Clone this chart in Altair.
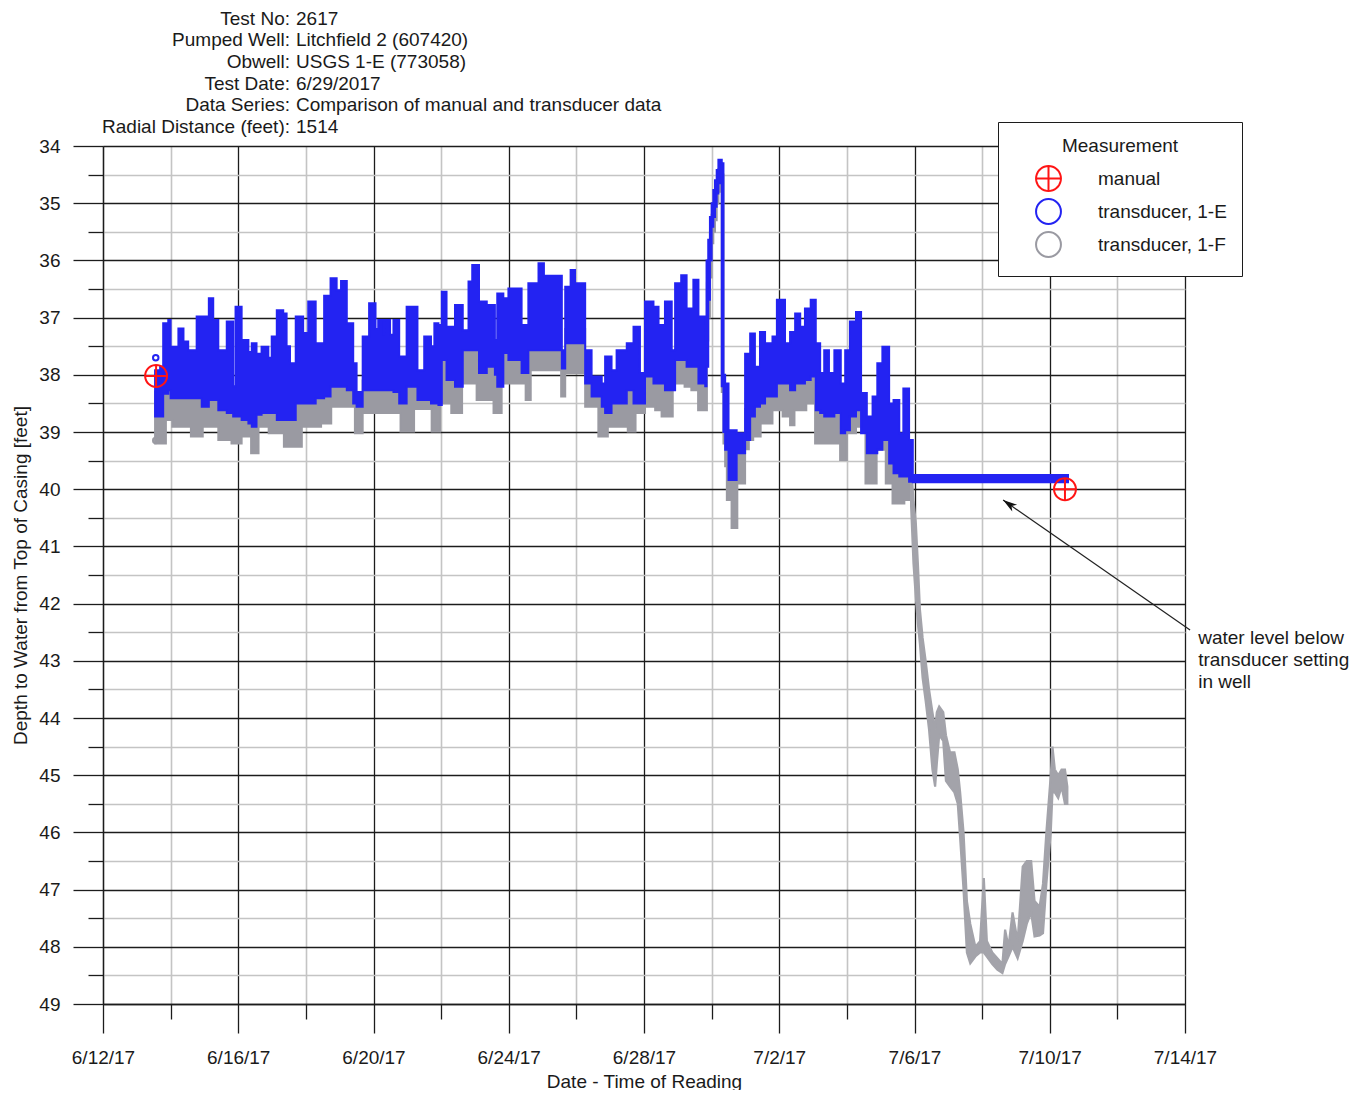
import math
import altair as alt
import pandas as pd

FONT = "Liberation Sans, Arial, sans-serif"
BLUE = "#2323f2"
GRAY = "#9a9aa2"
GRAY_LIGHT = "#a3a3aa"
RED = "#ff1414"
INK = "#1a1a1a"

# ---------------- data (days since 2017-06-12 00:00, depth in feet) ----------------
# transducer 1-E : envelope of the dense readings (start of each plateau, top, bottom)
e_day = [1.54, 1.69, 1.78, 1.93, 2.00, 2.23, 2.38, 2.52, 2.77, 2.92, 3.13, 3.26, 3.41, 3.66,
         3.85, 3.92, 4.10, 4.30, 4.40, 4.54, 4.69, 4.89, 4.99, 5.14, 5.33, 5.43, 5.53, 5.70,
         5.92, 6.07, 6.29, 6.54, 6.73, 6.91, 7.04, 7.21, 7.40, 7.50, 7.68, 7.87, 8.06, 8.14,
         8.29, 8.34, 8.49, 8.59, 8.76, 8.98, 9.30, 9.50, 9.70, 9.80, 9.92, 10.02, 10.16, 10.41,
         10.64, 10.81, 10.92, 11.12, 11.35, 11.59, 11.66, 11.84, 11.99, 12.38, 12.58, 12.88,
         13.04, 13.57, 13.67, 13.83, 13.96, 14.26, 14.45, 14.75, 14.85, 15.04, 15.19, 15.49,
         15.69, 15.88, 16.03, 16.28, 16.43, 16.62, 16.82, 16.92, 17.10, 17.26, 17.46, 17.61,
         17.81, 17.85, 17.90, 17.95, 18.00, 18.05, 18.10, 18.15, 18.20, 18.30, 18.35, 18.40,
         18.50, 18.74, 18.94, 18.99, 19.14, 19.28, 19.43, 19.58, 19.80, 19.93, 20.17, 20.32,
         20.47, 20.62, 20.76, 20.93, 21.08, 21.21, 21.33, 21.47, 21.63, 21.82, 21.95, 22.09,
         22.27, 22.42, 22.59, 22.76, 22.90, 23.05, 23.25, 23.38, 23.55, 23.67, 23.84, 23.95,
         28.54]
e_hi = [37.92, 37.86, 37.10, 37.04, 37.51, 37.19, 37.42, 37.57, 36.98, 36.98, 36.66, 37.04, 37.57, 37.07,
        38.20, 36.81, 37.39, 37.60, 37.45, 37.63, 37.51, 37.70, 37.33, 36.87, 36.93, 37.50, 37.80, 36.98,
        37.27, 36.72, 37.45, 36.62, 36.31, 36.52, 36.36, 37.10, 37.80, 38.30, 37.33, 36.75, 37.20, 37.04,
        37.30, 37.04, 37.30, 37.04, 37.68, 36.81, 37.92, 37.33, 37.50, 37.10, 37.13, 36.55, 37.16, 36.78,
        37.22, 36.37, 36.08, 36.72, 36.78, 37.39, 36.58, 36.66, 36.49, 37.13, 36.40, 36.05,
        36.27, 37.57, 36.46, 36.17, 36.40, 37.57, 38.03, 38.15, 37.68, 37.92, 37.57, 37.45,
        37.16, 37.97, 36.72, 36.81, 37.13, 36.72, 37.57, 36.40, 36.26, 36.84, 36.34, 36.98,
        37.50, 36.00, 35.64, 35.24, 35.00, 34.77, 34.60, 34.42, 34.24, 34.30, 38.00, 38.15,
        38.97, 39.02, 39.26, 37.63, 37.28, 37.86, 37.25, 37.45, 37.33, 36.69, 37.45, 37.25,
        36.93, 37.16, 36.84, 36.69, 37.45, 37.97, 37.57, 37.97, 37.57, 38.15, 37.57, 37.07,
        36.90, 38.32, 38.73, 38.38, 37.80, 37.51, 38.50, 38.44, 39.02, 38.24, 39.14, 39.75,
        39.75]
e_lo = [38.73, 38.73, 38.33, 38.27, 38.41, 38.41, 38.41, 38.41, 38.41, 38.56, 38.44, 38.44, 38.62, 38.67,
        38.73, 38.73, 38.79, 38.85, 38.91, 38.70, 38.67, 38.67, 38.67, 38.79, 38.79, 38.79, 38.79, 38.50,
        38.50, 38.50, 38.41, 38.38, 38.21, 38.21, 38.21, 38.27, 38.50, 38.56, 38.27, 38.27, 38.27, 38.27,
        38.27, 38.27, 38.27, 38.30, 38.50, 38.21, 38.44, 38.44, 38.50, 38.50, 38.53, 37.74, 38.09, 38.21,
        37.57, 37.57, 37.57, 37.97, 37.86, 38.00, 38.21, 37.62, 37.74, 37.97, 37.57, 37.57,
        37.57, 37.89, 37.45, 37.45, 37.45, 38.15, 38.38, 38.56, 38.67, 38.50, 38.50, 38.27,
        38.50, 38.50, 38.03, 38.15, 38.15, 38.27, 38.27, 37.74, 37.74, 37.86, 37.86, 38.15,
        38.20, 37.86, 36.69, 36.00, 35.41, 35.24, 35.06, 34.83, 34.65, 38.20, 39.00, 39.31,
        39.84, 39.37, 39.37, 39.14, 38.73, 38.56, 38.50, 38.38, 38.38, 38.15, 38.15, 38.27,
        38.15, 38.15, 38.09, 38.03, 38.62, 38.67, 38.73, 38.73, 38.67, 39.02, 38.97, 38.73,
        38.62, 39.02, 39.37, 39.37, 39.31, 39.14, 39.55, 39.72, 39.78, 39.78, 39.87, 39.88,
        39.88]

# transducer 1-F, until 7/6 (plateau start, top, bottom)
f1_day = [1.54, 1.86, 2.05, 2.60, 2.95, 3.41, 3.80, 4.10, 4.38, 4.60, 4.90, 5.35, 5.88, 6.45,
          6.75, 7.45, 7.68, 8.80, 9.20, 9.72, 9.97, 10.30, 10.62, 11.05, 11.55, 11.79, 12.50,
          12.65, 13.55, 13.67, 14.26, 14.65, 14.93, 15.52, 15.75, 16.03, 16.33, 16.52, 16.85,
          17.20, 17.40, 17.60, 17.86, 17.90, 17.95, 18.00, 18.05, 18.10, 18.15, 18.20, 18.25,
          18.30, 18.35, 18.40, 18.45, 18.59, 18.76, 18.99, 19.10, 19.23, 19.45, 19.80, 20.10,
          20.32, 20.45, 20.80, 21.06, 21.80, 22.00, 22.27, 22.55, 22.88, 23.15, 23.35, 23.70,
          23.90]
f1_hi = [38.30, 38.20, 38.30, 38.30, 38.30, 38.30, 38.40, 38.40, 38.40, 38.30, 38.30, 38.30, 38.20, 38.10,
         38.00, 38.30, 38.10, 38.10, 38.10, 38.20, 37.60, 37.90, 37.40, 37.50, 37.80, 37.40, 37.40,
         37.30, 37.60, 37.20, 38.10, 38.30, 38.10, 38.20, 38.20, 37.90, 37.90, 38.00, 37.60,
         37.60, 37.60, 37.90, 36.40, 36.00, 35.50, 35.20, 35.00, 34.80, 34.60, 34.40, 34.30,
         34.50, 38.20, 38.90, 39.00, 39.10, 39.30, 38.60, 38.50, 38.40, 38.20, 38.00, 38.00,
         38.00, 37.90, 37.90, 38.30, 38.50, 38.50, 38.50, 38.80, 38.90, 39.00, 39.10, 39.20,
         39.60]
f1_lo = [39.20, 38.79, 38.91, 39.08, 38.91, 39.14, 39.20, 39.08, 39.37, 38.91, 39.02, 39.26, 38.91, 38.85,
         38.56, 39.02, 38.67, 38.99, 38.60, 38.99, 38.50, 38.67, 38.15, 38.44, 38.67, 38.15, 38.44,
         37.92, 38.38, 37.97, 38.56, 39.08, 38.91, 38.99, 38.67, 38.56, 38.62, 38.73, 38.15,
         38.21, 38.27, 38.62, 37.40, 37.00, 36.30, 35.70, 35.50, 35.30, 35.00, 34.80, 34.70,
         38.30, 39.20, 39.60, 40.19, 40.68, 39.90, 39.30, 39.14, 39.08, 38.85, 38.62, 38.73,
         38.88, 38.62, 38.50, 39.20, 39.49, 39.02, 38.91, 39.90, 39.31, 39.90, 40.25, 40.19,
         40.30]

# transducer 1-F after 7/6, when the level fell below the 1-E transducer
f2_day = [23.90, 23.97, 24.04, 24.10, 24.16, 24.24, 24.33, 24.43, 24.53, 24.61, 24.66, 24.73,
          24.85, 24.93, 25.05, 25.18, 25.28, 25.35, 25.45, 25.55, 25.65, 25.80, 25.94, 26.05,
          26.14, 26.30, 26.45, 26.60, 26.68, 26.78, 26.90, 27.05, 27.20, 27.32, 27.45, 27.55,
          27.70, 27.80, 27.90, 28.03, 28.08, 28.15, 28.25, 28.35, 28.45, 28.52]
f2_hi = [39.60, 40.20, 40.60, 41.30, 42.10, 42.60, 43.00, 43.50, 43.90, 44.20, 43.90, 43.80,
         43.90, 44.30, 44.60, 44.60, 44.90, 45.30, 46.00, 47.20, 47.60, 48.00, 47.90, 46.80,
         47.90, 48.10, 48.20, 48.30, 47.70, 48.00, 47.40, 47.90, 46.60, 46.50, 46.50, 47.20,
         47.30, 46.90, 46.00, 45.00, 44.50, 44.90, 45.00, 44.90, 44.90, 45.20]
f2_lo = [40.30, 41.30, 41.90, 42.35, 42.70, 43.30, 43.70, 44.20, 44.90, 45.20, 44.80, 44.30,
         44.40, 45.10, 45.20, 45.30, 45.50, 46.10, 47.00, 48.10, 48.29, 48.17, 48.10, 48.10,
         48.17, 48.30, 48.40, 48.46, 48.30, 48.17, 48.00, 48.20, 47.90, 47.60, 47.40, 47.82,
         47.80, 47.76, 46.90, 46.00, 45.30, 45.30, 45.40, 45.20, 45.50, 45.50]

# individual markers
pt_series = ["manual", "manual", "transducer, 1-E", "transducer, 1-F"]
pt_day = [1.57, 28.45, 1.56, 1.56]
pt_depth = [38.02, 40.00, 37.70, 39.15]

series_names = ["manual", "transducer, 1-E", "transducer, 1-F"]

header_labels = ["Test No:", "Pumped Well:", "Obwell:", "Test Date:", "Data Series:",
                 "Radial Distance (feet):"]
header_values = ["2617", "Litchfield 2 (607420)", "USGS 1-E (773058)", "6/29/2017",
                 "Comparison of manual and transducer data", "1514"]

note_lines = ["water level below", "transducer setting", "in well"]
note_day, note_depth = 32.39, 42.60
arrow_tail = (32.15, 42.46)
arrow_tip = (26.62, 40.19)

x_major_vals = list(range(0, 33, 4))
x_minor_vals = list(range(2, 31, 4))
y_major_vals = list(range(34, 50))
y_minor_vals = [v + 0.5 for v in range(34, 49)]

# ---------------- chart ----------------
e_df = pd.DataFrame({"day": e_day, "hi": e_hi, "lo": e_lo})
f1_df = pd.DataFrame({"day": f1_day, "hi": f1_hi, "lo": f1_lo})
f2_df = pd.DataFrame({"day": f2_day, "hi": f2_hi, "lo": f2_lo})
pt_df = pd.DataFrame({"series": pt_series, "day": pt_day, "depth": pt_depth})

XS = alt.Scale(domain=[0, 32], nice=False, zero=False)
YS = alt.Scale(domain=[34, 49], reverse=True, nice=False, zero=False)

x_major = alt.Axis(
    orient="bottom", values=x_major_vals, grid=True, gridColor="#1c1c1c", gridWidth=1.3,
    ticks=True, tickSize=29, tickColor="#1c1c1c", tickWidth=1.3,
    domain=True, domainColor="#1c1c1c", domainWidth=1.3,
    labelExpr="timeFormat(datetime(2017, 5, 12 + datum.value), '%-m/%-d/%y')",
    labelFont=FONT, labelFontSize=19, labelColor=INK, labelPadding=15,
    labelFlush=False, labelOverlap=False,
    title="Date - Time of Reading", titleFont=FONT, titleFontSize=19,
    titleFontWeight="normal", titleColor=INK, titleY=77, titleBaseline="middle",
)
x_minor = alt.Axis(
    orient="bottom", values=x_minor_vals, grid=True, gridColor="#c4c4c4", gridWidth=1.6,
    ticks=True, tickSize=15, tickColor="#1c1c1c", tickWidth=1.3,
    domain=False, labels=False,
)
y_major = alt.Axis(
    orient="left", values=y_major_vals, grid=True, gridColor="#1c1c1c", gridWidth=1.3,
    ticks=True, tickSize=30, tickColor="#1c1c1c", tickWidth=1.3,
    domain=True, domainColor="#1c1c1c", domainWidth=1.3,
    format="d", labelFont=FONT, labelFontSize=19, labelColor=INK, labelPadding=13,
    labelOverlap=False,
    title="Depth to Water from Top of Casing [feet]", titleFont=FONT, titleFontSize=19,
    titleFontWeight="normal", titleColor=INK, titleX=-83, titleY=429,
    titleAngle=270, titleBaseline="middle",
)
y_minor = alt.Axis(
    orient="left", values=y_minor_vals, grid=True, gridColor="#c4c4c4", gridWidth=1.6,
    ticks=True, tickSize=15, tickColor="#1c1c1c", tickWidth=1.3,
    domain=False, labels=False,
)

gray_pre = alt.Chart(f1_df).mark_area(
    interpolate="step-after", color=GRAY, stroke=GRAY, strokeWidth=2
).encode(
    x=alt.X("day:Q", scale=XS, axis=x_minor, title=None),
    y=alt.Y("hi:Q", scale=YS, axis=y_minor, title=None),
    y2="lo:Q",
)

gray_post = alt.Chart(f2_df).mark_area(
    interpolate="linear", color=GRAY_LIGHT, stroke=GRAY_LIGHT, strokeWidth=2.2
).encode(
    x=alt.X("day:Q", scale=XS, axis=None),
    y=alt.Y("hi:Q", scale=YS, axis=None),
    y2="lo:Q",
)

blue = alt.Chart(e_df).mark_area(
    interpolate="step-after", color=BLUE, stroke=BLUE, strokeWidth=2
).encode(
    x=alt.X("day:Q", scale=XS, axis=x_major),
    y=alt.Y("hi:Q", scale=YS, axis=y_major),
    y2="lo:Q",
)

# symbol shapes: a circle (as a 36-gon) with a cross inside for the manual readings
_ring = "M" + "L".join(
    f"{math.cos(2 * math.pi * k / 36):.4f},{math.sin(2 * math.pi * k / 36):.4f}" for k in range(36)
) + "Z"
CROSS = _ring + "M-1,0L1,0M0,-1L0,1"

legend = alt.Legend(
    title="Measurement", orient="none", legendX=895, legendY=-24,
    fillColor="white", strokeColor="#1c1c1c", padding=15,
    titleFont=FONT, titleFontSize=19, titleFontWeight="normal", titleColor=INK,
    titleAnchor="middle", titlePadding=9,
    labelFont=FONT, labelFontSize=19, labelColor=INK, labelOffset=36,
    symbolOffset=22, symbolSize=620, symbolStrokeWidth=2, rowPadding=0,
)
points = alt.Chart(pt_df).mark_point(filled=False, strokeWidth=2, opacity=1).encode(
    x=alt.X("day:Q", scale=XS, axis=None),
    y=alt.Y("depth:Q", scale=YS, axis=None),
    color=alt.Color("series:N", scale=alt.Scale(domain=series_names, range=[RED, BLUE, GRAY]),
                    legend=legend),
    shape=alt.Shape("series:N", scale=alt.Scale(domain=series_names, range=[CROSS, "circle", "circle"]),
                    legend=legend),
    size=alt.condition("datum.series == 'manual'", alt.value(480), alt.value(30)),
)

arrow_df = pd.DataFrame({"day": [arrow_tail[0]], "depth": [arrow_tail[1]],
                         "day2": [arrow_tip[0]], "depth2": [arrow_tip[1]]})
arrow_line = alt.Chart(arrow_df).mark_rule(color="#222222", strokeWidth=1.2).encode(
    x=alt.X("day:Q", scale=XS, axis=None),
    y=alt.Y("depth:Q", scale=YS, axis=None),
    x2="day2:Q", y2="depth2:Q",
)
HEAD = "M0,0L0.6,2L0,1.45L-0.6,2Z"
arrow_head = alt.Chart(arrow_df).mark_point(
    shape=HEAD, filled=True, color="#111111", size=200, angle=304.8, opacity=1
).encode(
    x=alt.X("day2:Q", scale=XS, axis=None),
    y=alt.Y("depth2:Q", scale=YS, axis=None),
)

note_df = pd.DataFrame({"day": [note_day], "depth": [note_depth], "txt": ["\n".join(note_lines)]})
note = alt.Chart(note_df).mark_text(
    align="left", baseline="middle", lineBreak="\n", lineHeight=22,
    font=FONT, fontSize=19, color=INK
).encode(
    x=alt.X("day:Q", scale=XS, axis=None),
    y=alt.Y("depth:Q", scale=YS, axis=None),
    text="txt:N",
)

hdr_df = pd.DataFrame({"lab": ["\n".join(header_labels)], "val": ["\n".join(header_values)]})
hdr_labels = alt.Chart(hdr_df).mark_text(
    align="right", baseline="middle", lineBreak="\n", lineHeight=21.7,
    font=FONT, fontSize=19, color=INK
).encode(x=alt.value(187), y=alt.value(-127.5), text="lab:N")
hdr_values = alt.Chart(hdr_df).mark_text(
    align="left", baseline="middle", lineBreak="\n", lineHeight=21.7,
    font=FONT, fontSize=19, color=INK
).encode(x=alt.value(193), y=alt.value(-127.5), text="val:N")

chart = alt.layer(
    gray_pre, gray_post, blue, points, arrow_line, arrow_head, note, hdr_labels, hdr_values
).resolve_axis(
    x="independent", y="independent"
).properties(
    width=1082, height=858,
    padding={"left": 95, "top": 138, "right": 168, "bottom": 86},
    autosize=alt.AutoSizeParams(type="none"),
).configure_view(stroke="transparent")

chart.save("out.html", embed_options={"renderer": "svg", "actions": False})
